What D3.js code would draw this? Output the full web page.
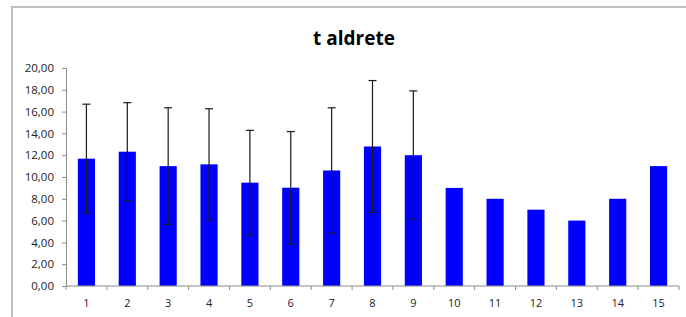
<!DOCTYPE html>
<html>
<head>
<meta charset="utf-8">
<script src="https://cdn.jsdelivr.net/npm/d3@7"></script>
<style>
  body { margin: 0; background: #fff; }
  svg { display: block; }
</style>
</head>
<body>
<svg id="chart" width="686" height="317"></svg>
<script>
// values
let categories = ["1","2","3","4","5","6","7","8","9","10","11","12","13","14","15"];
let means = [11.68, 12.32, 11.0, 11.16, 9.48, 9.02, 10.6, 12.8, 12.0, 9.0, 8.0, 7.0, 6.0, 8.0, 11.0];
let sds   = [5.0, 4.5, 5.35, 5.1, 4.8, 5.15, 5.75, 6.05, 5.9, null, null, null, null, null, null];
let yTicks = [0, 2, 4, 6, 8, 10, 12, 14, 16, 18, 20];

let data = categories.map((c, i) => ({ cat: c, mean: means[i], sd: sds[i] }));

const svg = d3.select("#chart");
const plotLeft = 66, plotRight = 679, plotTop = 68, plotBottom = 286;
const fmt = v => d3.format(".2f")(v).replace(".", ",");

// outer frame
svg.append("rect")
    .attr("x", 12)
    .attr("y", 7)
    .attr("width", 690)
    .attr("height", 320)
    .attr("fill", "#fff")
    .attr("stroke", "#bdbdbd")
    .attr("stroke-width", 2);

svg.append("text")
    .attr("x", 354)
    .attr("y", 45)
    .attr("text-anchor", "middle")
    .style("font", "bold 19px 'Open Sans', sans-serif")
    .attr("fill", "#000")
    .text("t aldrete");

let x = d3.scaleBand()
    .domain(categories)
    .range([plotLeft, plotRight])
    .paddingInner(0.58)
    .paddingOuter(0.29);

let y = d3.scaleLinear()
    .domain([0, 20])
    .range([plotBottom, plotTop]);

// y axis
let yAxis = d3.axisLeft(y)
    .tickValues(yTicks)
    .tickFormat(fmt)
    .tickSize(4)
    .tickPadding(8);

let gy = svg.append("g")
    .attr("transform", `translate(${plotLeft},0)`)
    .call(yAxis);
gy.select(".domain").attr("stroke", "#8c8c8c");
gy.selectAll(".tick line").attr("stroke", "#8c8c8c");
gy.selectAll("text")
    .style("font", "11.5px 'Open Sans', sans-serif")
    .attr("fill", "#222");

// bars
svg.append("g")
  .selectAll("rect")
  .data(data)
  .join("rect")
    .attr("x", d => x(d.cat))
    .attr("y", d => y(d.mean))
    .attr("width", x.bandwidth())
    .attr("height", d => y(0) - y(d.mean))
    .attr("fill", "#0000ff");

// error bars
let err = svg.append("g")
  .selectAll("g")
  .data(data.filter(d => d.sd != null))
  .join("g")
    .attr("stroke", "#1a1a1a")
    .attr("stroke-width", 1.2);

let cx = d => x(d.cat) + x.bandwidth() / 2;
err.append("line")
    .attr("x1", cx).attr("x2", cx)
    .attr("y1", d => y(d.mean + d.sd))
    .attr("y2", d => y(d.mean - d.sd));
err.append("line")
    .attr("x1", d => cx(d) - 4).attr("x2", d => cx(d) + 4)
    .attr("y1", d => y(d.mean + d.sd))
    .attr("y2", d => y(d.mean + d.sd));
err.append("line")
    .attr("x1", d => cx(d) - 4).attr("x2", d => cx(d) + 4)
    .attr("y1", d => y(d.mean - d.sd))
    .attr("y2", d => y(d.mean - d.sd));

// x axis: ticks sit between categories
let step = x.step();
let gx = svg.append("g")
    .attr("transform", `translate(0,${plotBottom})`);
gx.append("line")
    .attr("x1", plotLeft).attr("x2", plotRight)
    .attr("stroke", "#8c8c8c");
gx.selectAll(".sep")
  .data(d3.range(categories.length + 1))
  .join("line")
    .attr("class", "sep")
    .attr("x1", i => plotLeft + i * step)
    .attr("x2", i => plotLeft + i * step)
    .attr("y1", 0).attr("y2", 4)
    .attr("stroke", "#8c8c8c");
gx.selectAll("text")
  .data(categories)
  .join("text")
    .attr("x", d => x(d) + x.bandwidth() / 2)
    .attr("y", 21)
    .attr("text-anchor", "middle")
    .style("font", "11px 'Open Sans', sans-serif")
    .attr("fill", "#222")
    .text(d => d);
</script>
</body>
</html>
